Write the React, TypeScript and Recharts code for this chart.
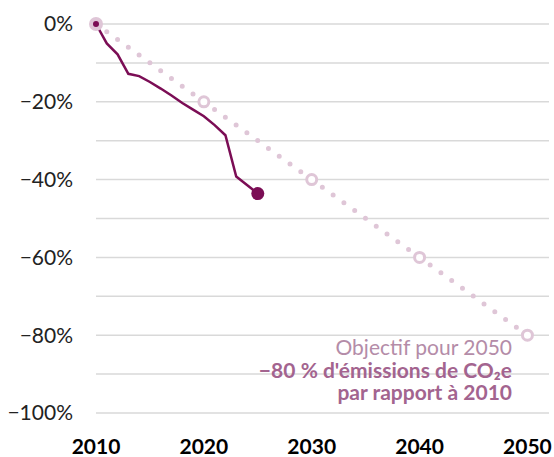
import React from 'react';
import { LineChart, Line, XAxis, YAxis, CartesianGrid } from 'recharts';

// emissions relative to 2010, in %
const actualYears = [2010, 2011, 2012, 2013, 2014, 2015, 2016, 2017, 2018, 2019, 2020, 2021, 2022, 2023, 2024, 2025];
const actualValues = [0, -5, -7.8, -12.8, -13.4, -14.9, -16.6, -18.4, -20.3, -22, -23.7, -26, -28.6, -39.2, -41.4, -43.6];

const targetYears = [2010, 2020, 2030, 2040, 2050];
const targetValues = [0, -20, -40, -60, -80];

const xTicks = [2010, 2020, 2030, 2040, 2050];
const yTicks = [0, -10, -20, -30, -40, -50, -60, -70, -80, -90, -100];

const actualData = actualYears.map((year, i) => ({ year, value: actualValues[i] }));
const targetData = targetYears.map((year, i) => ({ year, value: targetValues[i] }));

const DARK = '#7b0d55';
const PINK = '#dfc6d7';
const FONT = 'Lato, "Open Sans", sans-serif';

const formatPct = (v: number) => {
  if (v % 20 !== 0) return '';
  return v === 0 ? '0%' : `\u2212${Math.abs(v)}%`;
};

const TargetDot = (props: any) => {
  const { cx, cy, index } = props;
  if (index === 0) return <circle key="t0" cx={cx} cy={cy} r={7} fill={PINK} />;
  return <circle key={`t${index}`} cx={cx} cy={cy} r={5} fill="#fff" stroke={PINK} strokeWidth={3} />;
};

const ActualDot = (props: any) => {
  const { cx, cy, index } = props;
  if (index === 0) return <circle key="a0" cx={cx} cy={cy} r={3} fill={DARK} />;
  if (index === actualData.length - 1) return <circle key="alast" cx={cx} cy={cy} r={6.5} fill={DARK} />;
  return <g key={`a${index}`} />;
};

export default function App() {
  return (
    <div style={{ position: 'absolute', left: 0, top: 0, width: 554, height: 457, background: '#fff', fontFamily: FONT }}>
      <LineChart width={554} height={457} margin={{ top: 24, right: 5, left: 0, bottom: 0 }}>
        <CartesianGrid vertical={false} stroke="#d9d9d9" strokeWidth={1.5} />
        <XAxis
          dataKey="year"
          type="number"
          domain={[2010, 2052]}
          ticks={xTicks}
          allowDuplicatedCategory={false}
          axisLine={false}
          tickLine={false}
          tickSize={0}
          tickMargin={26}
          height={44}
          tick={{ fill: '#000', fontSize: 21, fontWeight: 700, fontFamily: FONT }}
        />
        <YAxis
          type="number"
          domain={[-100, 0]}
          ticks={yTicks}
          interval={0}
          tickFormatter={formatPct}
          axisLine={false}
          tickLine={false}
          tickSize={0}
          tickMargin={23}
          width={96}
          tick={{ fill: '#222', fontSize: 21, fontFamily: FONT }}
        />
        <Line
          data={targetData}
          dataKey="value"
          type="linear"
          stroke={PINK}
          strokeWidth={5}
          strokeLinecap="round"
          strokeDasharray="0 13.29"
          dot={TargetDot}
          activeDot={false}
          isAnimationActive={false}
        />
        <Line
          data={actualData}
          dataKey="value"
          type="linear"
          stroke={DARK}
          strokeWidth={2.5}
          dot={ActualDot}
          activeDot={false}
          isAnimationActive={false}
        />
      </LineChart>
      <svg width={554} height={457} style={{ position: 'absolute', left: 0, top: 0, pointerEvents: 'none' }}>
        <g fontFamily={FONT} fontSize={21} textAnchor="end">
          <text x={512} y={355} fill="#b48ca8">Objectif pour 2050</text>
          <text x={512} y={377.5} fill="#a3648f" fontWeight={700}>{'\u221280\u202F% d\'émissions de CO₂e'}</text>
          <text x={512} y={400} fill="#a3648f" fontWeight={700}>par rapport à 2010</text>
        </g>
      </svg>
    </div>
  );
}
